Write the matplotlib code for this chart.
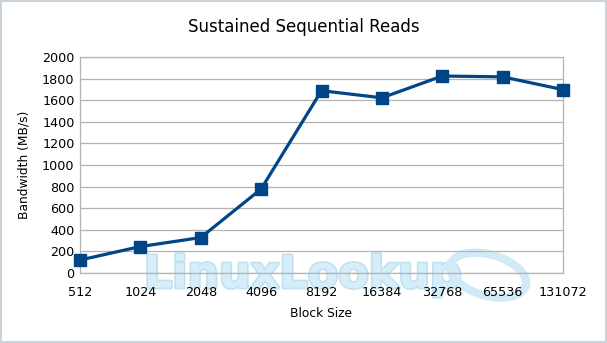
import matplotlib
matplotlib.use("Agg")
import matplotlib.pyplot as plt
import matplotlib.patheffects as pe
from matplotlib.patches import Ellipse

block_sizes = ["512", "1024", "2048", "4096", "8192", "16384", "32768", "65536", "131072"]
bandwidth = [120, 245, 328, 778, 1688, 1622, 1824, 1816, 1698]
y_ticks = [0, 200, 400, 600, 800, 1000, 1200, 1400, 1600, 1800, 2000]

fig = plt.figure(figsize=(6.07, 3.43), dpi=100)
fig.patch.set_facecolor("white")
ax = fig.add_axes([80 / 607, 1 - 273 / 343, (563 - 80) / 607, (273 - 57) / 343])

# Faint watermark, kept beneath the grid and axis labels
ax.text(0.462, -0.01, "LinuxLookup", transform=ax.transAxes, ha="center", va="center",
        fontsize=32, fontweight="bold", color="#d6eef9", zorder=0.1, clip_on=False,
        path_effects=[pe.withStroke(linewidth=2.5, foreground="#c2e2f2")])
ell = Ellipse((0.845, -0.01), 0.14, 0.22, angle=25, transform=ax.transAxes,
              fill=False, edgecolor="#d2eaf6", linewidth=6, zorder=0.1, clip_on=False)
ax.add_patch(ell)

x = list(range(len(block_sizes)))
ax.plot(x, bandwidth, color="#004586", linewidth=2.3, marker="s", markersize=8.5,
        markerfacecolor="#004586", markeredgecolor="#004586", zorder=3, clip_on=False)

ax.set_xlim(0, len(block_sizes) - 1)
ax.set_ylim(0, 2000)
ax.set_yticks(y_ticks)
ax.set_xticks(x)
ax.set_xticklabels(block_sizes)
ax.set_facecolor("none")
ax.grid(axis="y", color="#b3b3b3", linewidth=0.9)
ax.set_axisbelow(True)
ax.xaxis.set_zorder(1)
ax.yaxis.set_zorder(1)
for s in ax.spines.values():
    s.set_color("#b3b3b3")
    s.set_linewidth(0.9)
ax.tick_params(axis="both", length=0, labelsize=9.2, colors="black")
ax.tick_params(axis="y", pad=4)
ax.tick_params(axis="x", pad=9)

ax.set_xlabel("Block Size", fontsize=8.8, labelpad=6)
ax.set_ylabel("Bandwidth (MB/s)", fontsize=8.8, labelpad=8)
fig.text(0.5, 1 - 27 / 343, "Sustained Sequential Reads", ha="center", va="center", fontsize=12)

# Thin frame round the whole figure
fig.patches.append(plt.Rectangle((0.002, 0.003), 0.996, 0.994, transform=fig.transFigure,
                                 fill=False, edgecolor="#c9d3dc", linewidth=1.5))

fig.savefig("out.png", dpi=100, facecolor="white")
